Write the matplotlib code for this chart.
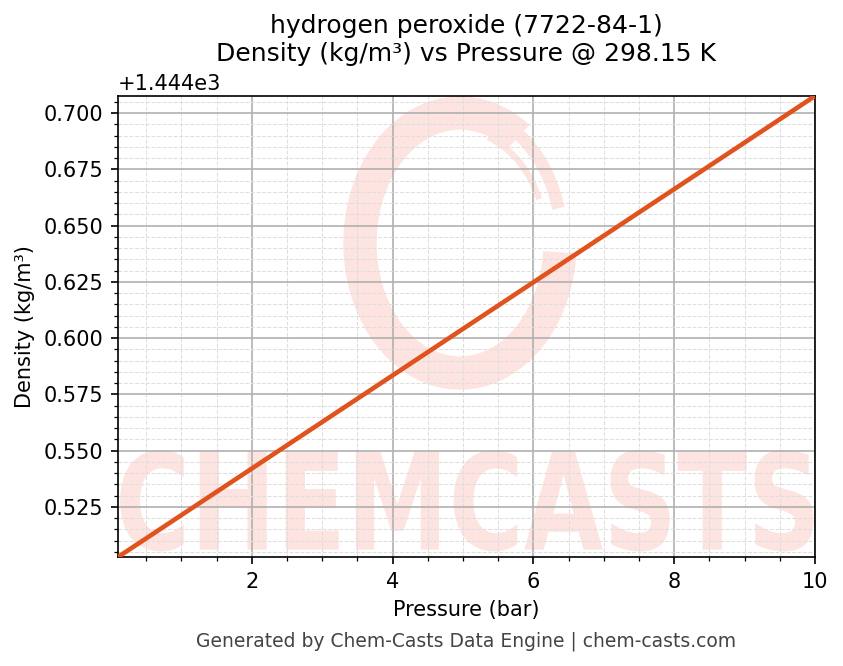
import matplotlib
matplotlib.use("Agg")
import matplotlib.pyplot as plt
from matplotlib.ticker import MultipleLocator
from matplotlib.textpath import TextPath
from matplotlib.patches import PathPatch, Arc
from matplotlib.font_manager import FontProperties
from matplotlib.transforms import Affine2D

# Data
pressure_bar = [0.1, 2.0, 4.0, 6.0, 8.0, 10.0]
density_kgm3 = [1444.5027, 1444.5420, 1444.5834, 1444.6248, 1444.6662, 1444.7076]

title_lines = ["hydrogen peroxide (7722-84-1)", "Density (kg/m³) vs Pressure @ 298.15 K"]
xlabel = "Pressure (bar)"
ylabel = "Density (kg/m³)"
footer = "Generated by Chem-Casts Data Engine | chem-casts.com"
watermark = "CHEMCASTS"

W, H, DPI = 843, 666, 150
fig = plt.figure(figsize=(W / DPI, H / DPI), dpi=DPI)
ax = fig.add_axes([118 / W, 1 - 557 / H, (815 - 118) / W, (557 - 96) / H])

wm_color = "#fde4e0"

# Watermark text stretched over the lower band of the axes
fp = FontProperties(family="DejaVu Sans", weight="bold")
tp = TextPath((0, 0), watermark, prop=fp, size=1)
ext = tp.get_extents()
x0, x1, y0, y1 = 0.003, 0.998, 0.012, 0.232
tr = Affine2D().translate(-ext.x0, -ext.y0).scale((x1 - x0) / ext.width, (y1 - y0) / ext.height).translate(x0, y0)
ax.add_patch(PathPatch(tr.transform_path(tp), facecolor=wm_color, edgecolor="none",
                       transform=ax.transAxes, zorder=0))

# Watermark ring logo
cx, cy = (460 - 118) / (815 - 118), (557 - 243) / (557 - 96)
aw, ah = (234 - 34) / (815 - 118), (294 - 34) / (557 - 96)
ax.add_patch(Arc((cx, cy), width=aw, height=ah, theta1=70, theta2=352,
                 color=wm_color, lw=16, transform=ax.transAxes, zorder=0))
ax.add_patch(Arc((cx, cy), width=aw * 1.02, height=ah * 1.02, theta1=28, theta2=75,
                 color=wm_color, lw=6, transform=ax.transAxes, zorder=0))
ax.add_patch(Arc((cx, cy), width=aw * 0.86, height=ah * 0.86, theta1=40, theta2=80,
                 color=wm_color, lw=3, transform=ax.transAxes, zorder=0))

ax.plot(pressure_bar, density_kgm3, color="#e0531f", lw=2.2, zorder=3)

ax.set_xlim(min(pressure_bar), max(pressure_bar))
ax.set_ylim(min(density_kgm3), max(density_kgm3))
ax.xaxis.set_major_locator(MultipleLocator(2))
ax.xaxis.set_minor_locator(MultipleLocator(0.5))
ax.yaxis.set_major_locator(MultipleLocator(0.025))
ax.yaxis.set_minor_locator(MultipleLocator(0.005))
ax.set_axisbelow(True)
ax.grid(which="major", color="#b0b0b0", lw=0.8)
ax.grid(which="minor", color="#dedede", lw=0.5, ls="--")
ax.tick_params(labelsize=10)

ax.set_xlabel(xlabel, fontsize=10)
ax.set_ylabel(ylabel, fontsize=10)
ax.set_title("\n".join(title_lines), fontsize=12)
fig.text((118 + 815) / 2 / W, 1 - 641 / H, footer, ha="center", va="center", fontsize=9, color="#444444")

fig.savefig("out.png", dpi=DPI)
